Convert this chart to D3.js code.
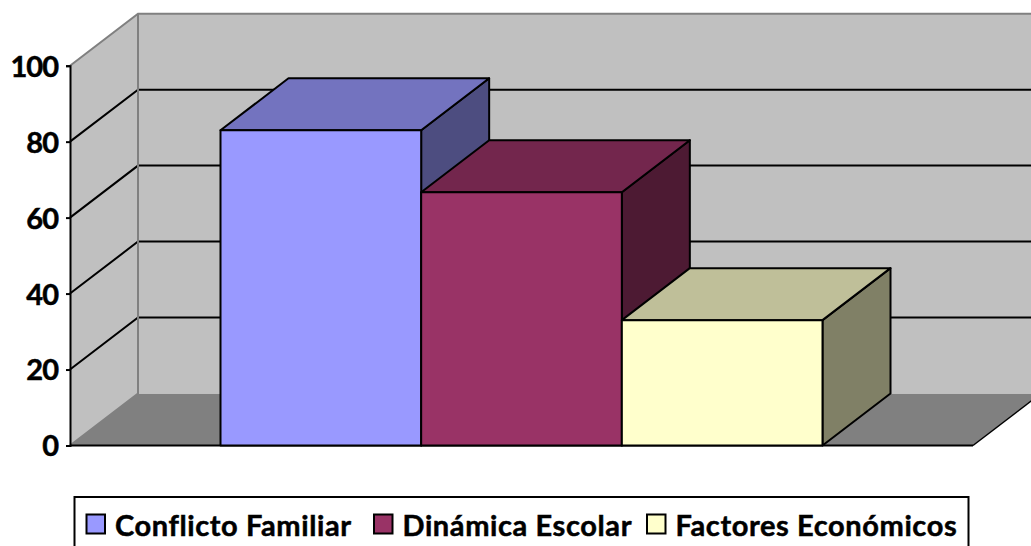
<!DOCTYPE html>
<html>
<head>
<meta charset="utf-8">
<script src="https://cdn.jsdelivr.net/npm/d3@7"></script>
<style>
  html, body { margin: 0; padding: 0; background: #fff; overflow: hidden; }
  svg { display: block; }
  text { font-family: Lato, "Open Sans", sans-serif; font-weight: 700; fill: #000; stroke: #000; stroke-width: 0.5px; }
</style>
</head>
<body>
<div class="main"></div>
<script>
const seriesNames = ["Conflicto Familiar", "Dinámica Escolar", "Factores Económicos"];
const seriesValues = [83, 66.7, 33];
const seriesColors = ["#9999FF", "#993366", "#FFFFCC"];
const yTicks = [0, 20, 40, 60, 80, 100];

const fullwidth = 1031, fullheight = 546;
const plot = { left: 70, right: 973, top: 65.7, bottom: 445.5 };
// oblique offset of the back plane
const depth = { x: 68, y: -52 };

const svg = d3.select(".main")
  .append("svg")
  .attr("width", fullwidth)
  .attr("height", fullheight)
  .attr("viewBox", [0, 0, fullwidth, fullheight]);

const x = d3.scaleBand()
  .domain(seriesNames)
  .range([plot.left, plot.right])
  .paddingInner(0)
  .paddingOuter(0.75);

const y = d3.scaleLinear()
  .domain([0, 100])
  .range([plot.bottom, plot.top]);

const pts = a => a.map(p => p.join(",")).join(" ");
const back = (px, py) => [px + depth.x, py + depth.y];

// left wall, back wall, floor
const x0 = plot.left, x1 = plot.right, yb = y(0), yt = y(100);
svg.append("polygon")
  .attr("points", pts([back(x0, yb), back(x1, yb), [x1, yb], [x0, yb]]))
  .attr("fill", "#808080");
svg.append("polygon")
  .attr("points", pts([back(x0, yt), back(x1, yt), back(x1, yb), back(x0, yb)]))
  .attr("fill", "#C0C0C0");
svg.append("polygon")
  .attr("points", pts([[x0, yt], back(x0, yt), back(x0, yb), [x0, yb]]))
  .attr("fill", "#C0C0C0");

// gridlines on the walls
const grid = svg.append("g").attr("fill", "none").attr("stroke", "#000").attr("stroke-width", 2);
yTicks.filter(d => d > 0 && d < 100).forEach(d => {
  grid.append("polyline")
    .attr("points", pts([[x0, y(d)], back(x0, y(d)), back(x1, y(d))]));
});

// wall edges
svg.append("path")
  .attr("d", "M" + [x0, yt] + "L" + back(x0, yt) + "L" + back(x1, yt)
    + "M" + back(x0, yt) + "L" + back(x0, yb) + "L" + [x0, yb])
  .attr("fill", "none")
  .attr("stroke", "#808080")
  .attr("stroke-width", 2);

// floor right edge
svg.append("line")
  .attr("x1", x1).attr("y1", yb)
  .attr("x2", back(x1, yb)[0]).attr("y2", back(x1, yb)[1])
  .attr("stroke", "#000")
  .attr("stroke-width", 1.5);

// axes
const yAxis = svg.append("g")
  .attr("transform", "translate(" + plot.left + ",0)")
  .call(d3.axisLeft(y).tickValues(yTicks).tickSize(4).tickPadding(8));
yAxis.selectAll("path, line").attr("stroke", "#000").attr("stroke-width", 2);
yAxis.selectAll("text")
  .attr("dy", "0.36em")
  .style("font-size", "29px")
  .style("font-family", "Lato")
  .style("font-weight", 700)
  .style("letter-spacing", "-1px");

svg.append("line")
  .attr("x1", x0).attr("y1", yb)
  .attr("x2", x1).attr("y2", yb)
  .attr("stroke", "#000")
  .attr("stroke-width", 2);

// bars, each one sits right of the previous so the order is fine
const shade = (c, k) => {
  const r = d3.rgb(c);
  return d3.rgb(r.r * k, r.g * k, r.b * k).formatHex();
};
seriesNames.forEach((name, i) => {
  const l = x(name), r = l + x.bandwidth(), t = y(seriesValues[i]), b = y(0);
  const g = svg.append("g")
    .attr("stroke", "#000")
    .attr("stroke-width", 2)
    .attr("stroke-linejoin", "round");
  g.append("polygon")
    .attr("points", pts([[r, t], back(r, t), back(r, b), [r, b]]))
    .attr("fill", shade(seriesColors[i], 0.5));
  g.append("polygon")
    .attr("points", pts([[l, t], back(l, t), back(r, t), [r, t]]))
    .attr("fill", shade(seriesColors[i], 0.75));
  g.append("rect")
    .attr("x", l).attr("y", t)
    .attr("width", r - l).attr("height", b - t)
    .attr("fill", seriesColors[i]);
});

// legend, cut off by the bottom of the picture as in the original
const legend = svg.append("g");
legend.append("rect")
  .attr("x", 74.5).attr("y", 497)
  .attr("width", 894).attr("height", 70)
  .attr("fill", "#fff")
  .attr("stroke", "#000")
  .attr("stroke-width", 2);
const legendX = d3.scaleOrdinal().domain(seriesNames).range([86.5, 374, 647]);
seriesNames.forEach((name, i) => {
  legend.append("rect")
    .attr("x", legendX(name)).attr("y", 514.5)
    .attr("width", 18.5).attr("height", 19)
    .attr("fill", seriesColors[i])
    .attr("stroke", "#000")
    .attr("stroke-width", 2);
  legend.append("text")
    .attr("x", legendX(name) + 28.5)
    .attr("y", 535.5)
    .style("font-size", "29px")
    .style("letter-spacing", "0.6px")
    .text(name);
});
</script>
</body>
</html>
